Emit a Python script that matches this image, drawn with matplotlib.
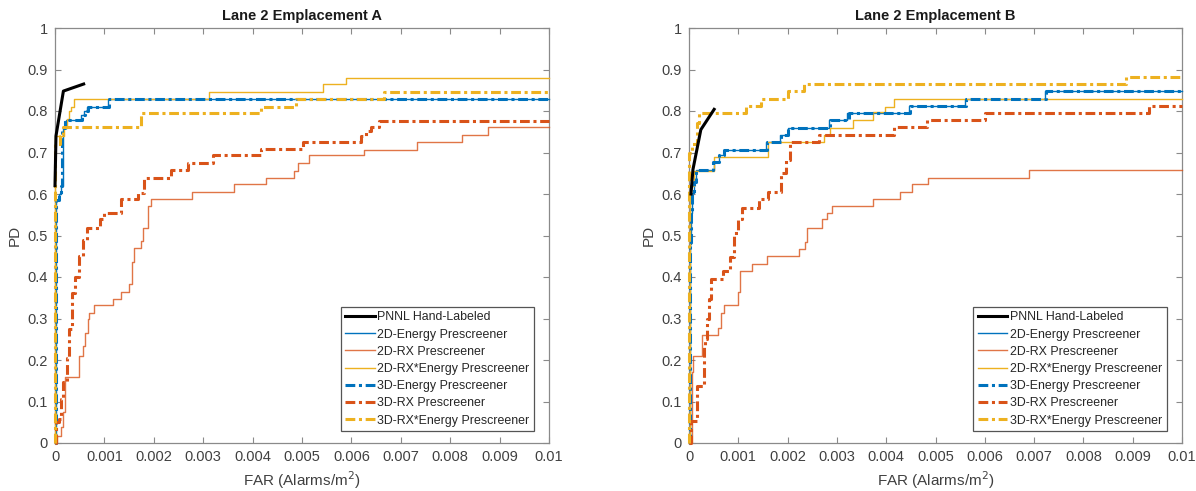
import matplotlib
matplotlib.use("Agg")
import matplotlib.pyplot as plt

plt.rcParams['font.family'] = ['Liberation Sans', 'DejaVu Sans']

# ---------------- Data: Lane 2 Emplacement A ----------------
A_pnnl_x = [0, 0.00002, 0.00017, 0.00058]
A_pnnl_y = [0.62, 0.74, 0.848, 0.865]

A_2de_x = [0, 0.00003, 0.00008, 0.00012, 0.00016, 0.00022, 0.00052, 0.00058, 0.00065, 0.00108, 0.01]
A_2de_y = [0, 0.585, 0.60, 0.62, 0.76, 0.778, 0.79, 0.80, 0.81, 0.828, 0.828]

A_2drx_x = [0, 0.00005, 0.00013, 0.00016, 0.00021, 0.00048, 0.00056, 0.0006, 0.00066, 0.00069, 0.00079,
            0.00118, 0.00134, 0.00149, 0.00156, 0.00159, 0.00175, 0.00179, 0.00188, 0.00194, 0.00278,
            0.00363, 0.00427, 0.00484, 0.00492, 0.00515, 0.00626, 0.00733, 0.00823, 0.00877, 0.01]
A_2drx_y = [0, 0.018, 0.038, 0.074, 0.158, 0.21, 0.234, 0.266, 0.298, 0.314, 0.332,
            0.348, 0.364, 0.383, 0.435, 0.47, 0.487, 0.519, 0.571, 0.589, 0.605,
            0.623, 0.639, 0.656, 0.674, 0.693, 0.707, 0.725, 0.743, 0.761, 0.761]

A_2drxe_x = [0, 0.00001, 0.00018, 0.00025, 0.00029, 0.00033, 0.00038, 0.00311, 0.00542, 0.00589, 0.01]
A_2drxe_y = [0, 0.74, 0.76, 0.78, 0.80, 0.81, 0.828, 0.845, 0.865, 0.88, 0.88]

A_3de_x = [0, 0.00002, 0.00008, 0.00012, 0.00015, 0.0002, 0.00055, 0.0006, 0.00066, 0.0011, 0.01]
A_3de_y = [0, 0.585, 0.60, 0.62, 0.76, 0.778, 0.79, 0.80, 0.81, 0.828, 0.828]

A_3drx_x = [0, 0.00002, 0.00009, 0.00013, 0.00017, 0.00025, 0.00029, 0.00035, 0.0004, 0.00048, 0.00056,
            0.00064, 0.00091, 0.001, 0.00134, 0.00169, 0.0018, 0.00235, 0.0027, 0.0032, 0.00418,
            0.00503, 0.0062, 0.0063, 0.0064, 0.00655, 0.01]
A_3drx_y = [0, 0.05, 0.058, 0.106, 0.146, 0.206, 0.274, 0.362, 0.40, 0.45, 0.49,
            0.519, 0.539, 0.555, 0.587, 0.603, 0.639, 0.658, 0.675, 0.693, 0.709,
            0.725, 0.74, 0.752, 0.762, 0.776, 0.776]

A_3drxe_x = [0, 0.00001, 0.0001, 0.00017, 0.00175, 0.00416, 0.00488, 0.00667, 0.01]
A_3drxe_y = [0, 0.72, 0.74, 0.761, 0.795, 0.81, 0.828, 0.845, 0.845]

# ---------------- Data: Lane 2 Emplacement B ----------------
B_pnnl_x = [0.00004, 0.00008, 0.00024, 0.00051]
B_pnnl_y = [0.60, 0.659, 0.755, 0.804]

B_2de_x = [0, 0.00003, 0.00005, 0.00007, 0.0001, 0.00014, 0.0005, 0.0006, 0.00072, 0.00156, 0.00184,
           0.002, 0.00284, 0.0032, 0.00447, 0.0056, 0.00722, 0.01]
B_2de_y = [0, 0.48, 0.555, 0.603, 0.63, 0.659, 0.677, 0.693, 0.707, 0.725, 0.743,
           0.759, 0.778, 0.795, 0.813, 0.829, 0.848, 0.848]

B_2drx_x = [0, 0.00006, 0.00009, 0.00026, 0.00058, 0.00064, 0.00071, 0.00099, 0.00103, 0.00127, 0.00158,
            0.00224, 0.00235, 0.00239, 0.00269, 0.0028, 0.0029, 0.00373, 0.00429, 0.00453, 0.00484,
            0.00689, 0.01]
B_2drx_y = [0, 0.17, 0.21, 0.26, 0.278, 0.314, 0.332, 0.364, 0.415, 0.431, 0.451,
            0.468, 0.484, 0.519, 0.539, 0.555, 0.571, 0.589, 0.605, 0.623, 0.639,
            0.658, 0.658]

B_2drxe_x = [0, 0.00002, 0.0001, 0.0005, 0.0016, 0.00273, 0.00287, 0.00333, 0.00374, 0.00397, 0.00416, 0.01]
B_2drxe_y = [0, 0.62, 0.655, 0.69, 0.725, 0.742, 0.759, 0.778, 0.798, 0.81, 0.828, 0.828]

B_3de_x = [0, 0.00003, 0.00005, 0.00007, 0.0001, 0.00014, 0.00049, 0.00061, 0.00072, 0.00158, 0.00186,
           0.002, 0.00286, 0.00325, 0.00449, 0.00561, 0.00724, 0.01]
B_3de_y = [0, 0.48, 0.555, 0.603, 0.63, 0.659, 0.677, 0.693, 0.707, 0.725, 0.743,
           0.759, 0.778, 0.795, 0.813, 0.829, 0.848, 0.848]

B_3drx_x = [0, 0.00005, 0.00016, 0.0003, 0.00033, 0.00037, 0.00041, 0.00045, 0.00068, 0.00084, 0.00092,
            0.001, 0.00107, 0.00142, 0.00161, 0.00187, 0.00196, 0.00204, 0.00263, 0.00415, 0.00482,
            0.006, 0.00934, 0.01]
B_3drx_y = [0, 0.054, 0.138, 0.234, 0.25, 0.298, 0.346, 0.395, 0.415, 0.447, 0.507,
            0.539, 0.567, 0.587, 0.605, 0.651, 0.683, 0.725, 0.742, 0.762, 0.778,
            0.795, 0.813, 0.813]

B_3drxe_x = [0, 0.00001, 0.00006, 0.00016, 0.0002, 0.00115, 0.00146, 0.002, 0.00234, 0.00886, 0.01]
B_3drxe_y = [0, 0.70, 0.72, 0.77, 0.795, 0.813, 0.829, 0.848, 0.864, 0.882, 0.882]

titles = ["Lane 2 Emplacement A", "Lane 2 Emplacement B"]
labels = ["PNNL Hand-Labeled", "2D-Energy Prescreener", "2D-RX Prescreener",
          "2D-RX*Energy Prescreener", "3D-Energy Prescreener", "3D-RX Prescreener",
          "3D-RX*Energy Prescreener"]
xticks = [0, 0.001, 0.002, 0.003, 0.004, 0.005, 0.006, 0.007, 0.008, 0.009, 0.01]
xtick_labels = ["0", "0.001", "0.002", "0.003", "0.004", "0.005", "0.006", "0.007", "0.008", "0.009", "0.01"]
yticks = [0, 0.1, 0.2, 0.3, 0.4, 0.5, 0.6, 0.7, 0.8, 0.9, 1.0]
ytick_labels = ["0", "0.1", "0.2", "0.3", "0.4", "0.5", "0.6", "0.7", "0.8", "0.9", "1"]

BLUE = '#0072BD'
ORANGE = '#D95319'
YELLOW = '#EDB120'
dashdot = (0, (3.2, 1.2, 1.0, 1.2))

panels = [
    [(A_pnnl_x, A_pnnl_y), (A_2de_x, A_2de_y), (A_2drx_x, A_2drx_y), (A_2drxe_x, A_2drxe_y),
     (A_3de_x, A_3de_y), (A_3drx_x, A_3drx_y), (A_3drxe_x, A_3drxe_y)],
    [(B_pnnl_x, B_pnnl_y), (B_2de_x, B_2de_y), (B_2drx_x, B_2drx_y), (B_2drxe_x, B_2drxe_y),
     (B_3de_x, B_3de_y), (B_3drx_x, B_3drx_y), (B_3drxe_x, B_3drxe_y)],
]

styles = [
    dict(color='black', lw=2.2, ls='-', drawstyle='default', zorder=10),
    dict(color=BLUE, lw=1.0, ls='-', drawstyle='steps-post', zorder=4),
    dict(color=ORANGE, lw=1.0, ls='-', drawstyle='steps-post', zorder=4, alpha=0.8),
    dict(color=YELLOW, lw=1.0, ls='-', drawstyle='steps-post', zorder=4),
    dict(color=BLUE, lw=2.2, ls=dashdot, drawstyle='steps-post', zorder=5),
    dict(color=ORANGE, lw=2.2, ls=dashdot, drawstyle='steps-post', zorder=5),
    dict(color=YELLOW, lw=2.2, ls=dashdot, drawstyle='steps-post', zorder=6),
]

fig = plt.figure(figsize=(11.96, 4.91), dpi=100)
axes_pos = [[55/1196, 48/491, 494/1196, 415/491], [689/1196, 48/491, 493/1196, 415/491]]
legend_anchor = [(341/1196, 61/491, 193/1196, 122/491), (974/1196, 61/491, 192/1196, 122/491)]

AXC = '#8a8a8a'
TXT = '#404040'
for i in range(2):
    ax = fig.add_axes(axes_pos[i])
    for (x, y), st, lab in zip(panels[i], styles, labels):
        ax.plot(x, y, label=lab, clip_on=False, **st)
    ax.set_xlim(0, 0.01)
    ax.set_ylim(0, 1)
    ax.set_xticks(xticks)
    ax.set_xticklabels(xtick_labels)
    ax.set_yticks(yticks)
    ax.set_yticklabels(ytick_labels)
    ax.tick_params(direction='in', top=True, right=True, length=4, width=0.8,
                   colors=AXC, labelcolor=TXT, labelsize=10.5, pad=5)
    for sp in ax.spines.values():
        sp.set_color(AXC)
        sp.set_linewidth(0.9)
    ax.set_title(titles[i], fontsize=10.5, fontweight='bold', color='#1a1a1a', pad=6)
    ax.set_xlabel("FAR (Alarms/m$^2$)", fontsize=11, color=TXT, labelpad=4)
    ax.set_ylabel("PD", fontsize=11, color=TXT, labelpad=4)
    leg = ax.legend(loc='center', bbox_to_anchor=legend_anchor[i], bbox_transform=fig.transFigure,
                    fontsize=8.9, frameon=True, fancybox=False, framealpha=1,
                    edgecolor='#555555', handlelength=2.4, handletextpad=0.2,
                    labelspacing=0.42, borderpad=0.35, borderaxespad=0)
    leg.get_frame().set_linewidth(0.9)
    for t in leg.get_texts():
        t.set_color('#262626')

fig.savefig("out.png", dpi=100)
